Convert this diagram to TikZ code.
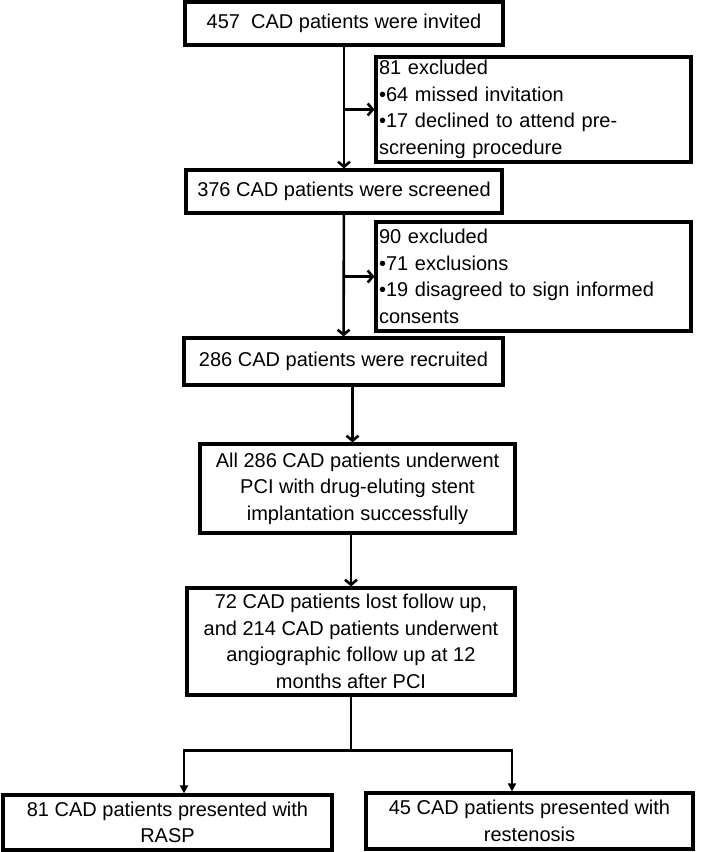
\documentclass[tikz,border=0pt]{standalone}
\usepackage{fontspec}
\setmainfont{Liberation Sans}
\usetikzlibrary{positioning}
\usetikzlibrary{calc}
\usetikzlibrary{arrows.meta}
\tikzset{box/.style={draw, line width=3.2pt, align=center, inner sep=2pt, font=\fontsize{20}{26.5}\selectfont}}
\tikzset{excl/.style={box, align=left, text width=309pt, inner xsep=3pt}}
\tikzset{>={Straight Barb[length=5pt,width=12pt]}}
\tikzset{ln/.style={line width=2.6pt}}
\tikzset{tip/.style={line width=2.6pt, -{Triangle[length=8pt,width=8pt]}}}

\begin{document}
\begin{tikzpicture}[x=1pt,y=-1pt]
\useasboundingbox (0,0) rectangle (709,852);

%%% Main column:

\node[box, minimum width=318pt, minimum height=43pt] (inv) at (344, 23.5) {457\ \ CAD patients were invited};
\node[box, minimum width=316pt, minimum height=43pt] (scr) at (344, 191.5) {376 CAD patients were screened};
\node[box, minimum width=319pt, minimum height=47pt] (rec) at (343.5, 361.5) {286 CAD patients were recruited};
\node[box, minimum width=315pt, minimum height=89pt] (pci) at (357.5, 488.5) {All 286 CAD patients underwent\\PCI with drug-eluting stent\\implantation successfully};
\node[box, minimum width=328pt, minimum height=107pt] (fol) at (351, 641.5) {72 CAD patients lost follow up,\\and 214 CAD patients underwent\\angiographic follow up at 12\\months after PCI};

%%% Exclusions:

\node[excl, minimum height=105pt] (ex1) at (533.5, 109.5) {81 excluded\\•64 missed invitation\\•17 declined to attend pre-\\screening procedure};
\node[excl, minimum height=109pt] (ex2) at (533.5, 276.5) {90 excluded\\•71 exclusions\\•19 disagreed to sign informed\\consents};

%%% Outcomes:

\node[box, minimum width=329pt, minimum height=55pt] (rasp) at (167.5, 822.5) {81 CAD patients presented with\\RASP};
\node[box, minimum width=327pt, minimum height=56pt] (rest) at (529.5, 821) {45 CAD patients presented with\\restenosis};

%%% Arrows:

\draw[ln, ->] (inv) -- (scr);
\draw[ln, ->] (inv.south |- ex1.west) -- (ex1.west);
\draw[ln, ->] (scr) -- (rec);
\draw[ln, ->] (scr.south |- ex2.west) -- (ex2.west);
\coordinate (pin) at ($(pci.north)+(-5,0)$);
\draw[ln, ->] (pin |- rec.south) -- (pin);
\draw[ln, ->] (fol.north |- pci.south) -- (fol.north);

\draw[ln] (fol.south) -- ++(0,54) coordinate (split);
\draw[tip] (split) -| ([xshift=16.5pt]rasp.north);
\draw[tip] (split) -| ([xshift=-17.5pt]rest.north);

\end{tikzpicture}
\end{document}
